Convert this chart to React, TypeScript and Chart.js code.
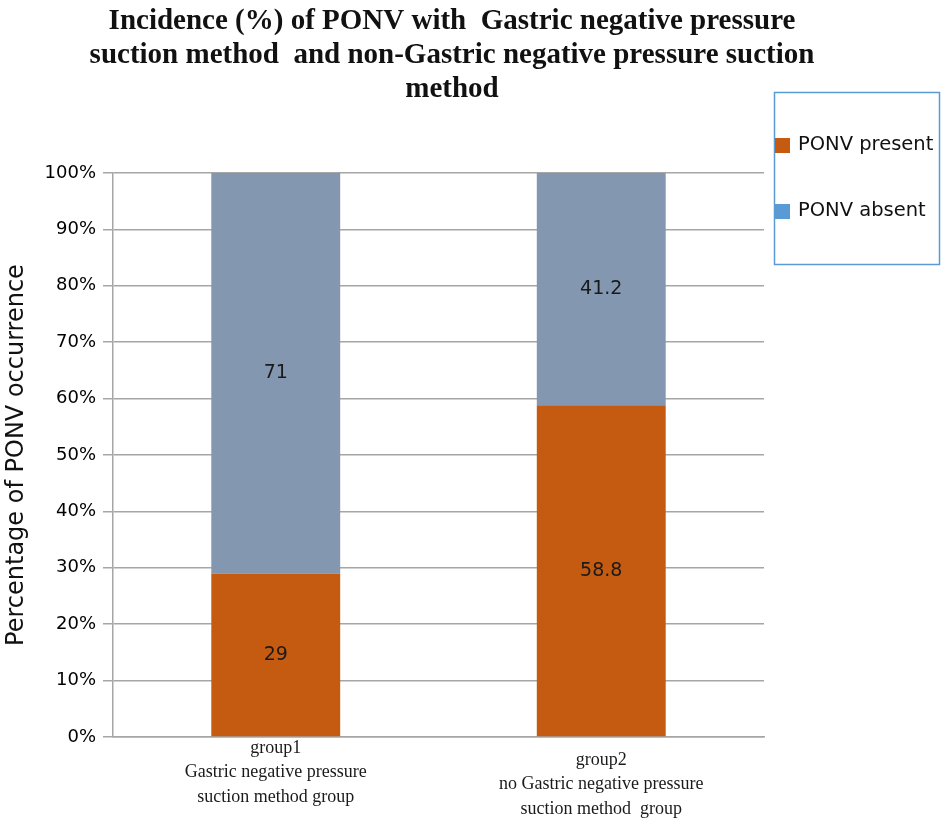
import React, { useEffect, useRef } from "react";
import { Chart, registerables } from "chart.js";

Chart.register(...registerables);

const titleLines = [
  "Incidence (%) of PONV with  Gastric negative pressure",
  "suction method  and non-Gastric negative pressure suction",
  "method",
];
const categories = [
  ["group1", "Gastric negative pressure", "suction method group"],
  ["group2", "no Gastric negative pressure", "suction method  group"],
];
const seriesLabels = ["PONV present", "PONV absent"];
const presentValues = [29, 58.8];
const absentValues = [71, 41.2];
const barColors = ["#C55A11", "#8497B0"];
const legendColors = ["#C55A11", "#5B9BD5"];
const yAxisTitle = "Percentage of PONV occurrence";
const yTickStep = 10;

const W = 945;
const H = 824;

const overlayPlugin = {
  id: "overlay",
  afterDraw(chart: any) {
    const ctx = chart.ctx;
    const area = chart.chartArea;
    ctx.save();
    // Title
    ctx.fillStyle = "#111";
    ctx.textAlign = "center";
    ctx.textBaseline = "middle";
    ctx.font = "bold 29px 'Liberation Serif'";
    const titleCx = 452;
    titleLines.forEach((t, i) => {
      ctx.fillText(t, titleCx, 22 + i * 34);
    });

    // Data labels
    ctx.font = "19px 'DejaVu Sans'";
    ctx.fillStyle = "#1a1a1a";
    chart.data.datasets.forEach((ds: any, di: number) => {
      const meta = chart.getDatasetMeta(di);
      meta.data.forEach((el: any, i: number) => {
        const cy = (el.y + el.base) / 2;
        ctx.fillText(String(ds.data[i]), el.x, cy);
      });
    });

    // X category labels
    const xs = chart.scales.x;
    ctx.font = "18px 'Liberation Serif'";
    ctx.fillStyle = "#1a1a1a";
    const startOffsets = [11, 23];
    categories.forEach((lines, i) => {
      const x = xs.getPixelForValue(i);
      lines.forEach((ln, j) => {
        ctx.fillText(ln, x, area.bottom + startOffsets[i] + j * 24.5);
      });
    });

    // Legend
    ctx.strokeStyle = "#5B9BD5";
    ctx.lineWidth = 1.5;
    ctx.strokeRect(774.5, 92.5, 165, 172);
    ctx.textAlign = "left";
    ctx.font = "19.5px 'DejaVu Sans'";
    const itemY = [145, 211];
    chart.data.datasets.forEach((ds: any, di: number) => {
      ctx.fillStyle = legendColors[di];
      ctx.fillRect(775, itemY[di] - 7, 15, 15);
      ctx.fillStyle = "#111";
      ctx.fillText(ds.label, 798, itemY[di]);
    });
    ctx.restore();
  },
};

export default function App() {
  const ref = useRef<HTMLCanvasElement>(null);
  useEffect(() => {
    if (!ref.current) return;
    const chart = new Chart(ref.current, {
      type: "bar",
      data: {
        labels: categories.map((c) => c[0]),
        datasets: [
          {
            label: seriesLabels[0],
            data: presentValues,
            backgroundColor: barColors[0],
            categoryPercentage: 0.396,
            barPercentage: 1,
          },
          {
            label: seriesLabels[1],
            data: absentValues,
            backgroundColor: barColors[1],
            categoryPercentage: 0.396,
            barPercentage: 1,
          },
        ],
      },
      options: {
        responsive: false,
        animation: false,
        devicePixelRatio: 1,
        layout: { padding: { top: 173, right: 181, left: 0, bottom: 0 } },
        plugins: {
          legend: { display: false },
          title: { display: false },
          tooltip: { enabled: false },
        },
        scales: {
          x: {
            stacked: true,
            grid: { display: false },
            border: { display: true, color: "#a6a6a6", width: 1.5 },
            ticks: { display: false },
            afterFit: (s: any) => {
              s.height = H - 737;
            },
          },
          y: {
            stacked: true,
            min: 0,
            max: 100,
            ticks: {
              stepSize: yTickStep,
              padding: 7,
              color: "#000",
              font: { family: "'DejaVu Sans'", size: 18 },
              callback: (v: any) => v + "%",
            },
            grid: { color: "#a6a6a6", lineWidth: 1.5, tickLength: 10 },
            border: { display: true, color: "#a6a6a6", width: 1.5 },
            title: {
              display: true,
              text: yAxisTitle,
              color: "#111",
              font: { family: "'DejaVu Sans'", size: 24, lineHeight: 1.1 },
              padding: { top: 4, bottom: 0 },
            },
            afterFit: (s: any) => {
              s.width = 113;
            },
          },
        },
      },
      plugins: [overlayPlugin],
    });
    return () => chart.destroy();
  }, []);
  return (
    <div style={{ position: "fixed", left: 0, top: 0, width: W, height: H, background: "#fff" }}>
      <canvas ref={ref} width={W} height={H} style={{ width: W, height: H, display: "block" }} />
    </div>
  );
}
